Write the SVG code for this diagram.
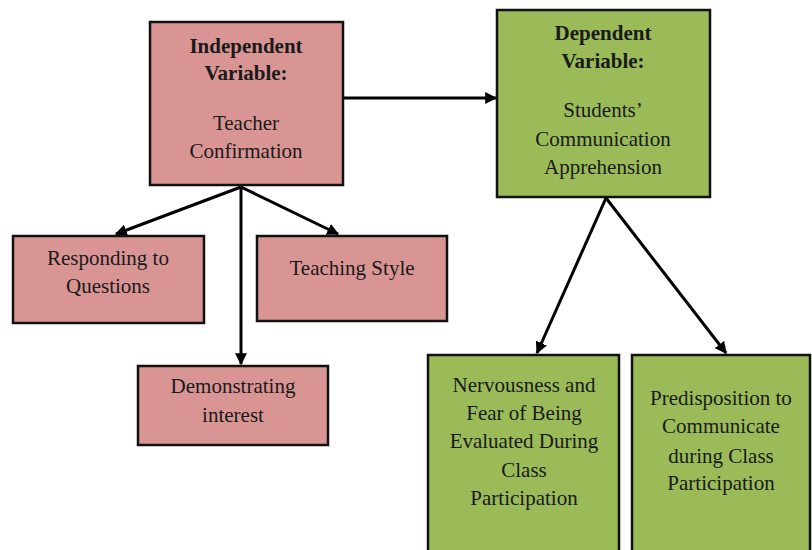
<svg xmlns="http://www.w3.org/2000/svg" width="812" height="550" viewBox="0 0 812 550">
<style>
.pink{fill:#d99594;stroke:#111;stroke-width:2.5}
.green{fill:#9bbb59;stroke:#111;stroke-width:2.5}
text{font-family:"Liberation Serif","Times New Roman",serif;font-size:21px;fill:#1a1a1a;text-anchor:middle}
.b{font-weight:bold}
.edge{stroke:#000;stroke-width:3;fill:none;marker-end:url(#ah)}
</style>
<defs>
<marker id="ah" viewBox="0 0 10 10" refX="9" refY="5" markerWidth="4" markerHeight="4" orient="auto" markerUnits="strokeWidth">
<path d="M0,0 L10,5 L0,10 z" fill="#000"/>
</marker>
</defs>
<rect width="812" height="550" fill="#fff"/>
<g id="connectors">
<line class="edge" x1="343" y1="98" x2="496" y2="98"/>
<line class="edge" x1="241" y1="187" x2="116" y2="234"/>
<line class="edge" x1="241" y1="187" x2="338" y2="234"/>
<line class="edge" x1="241" y1="187" x2="241" y2="364"/>
<line class="edge" x1="606" y1="198" x2="537" y2="353"/>
<line class="edge" x1="606" y1="198" x2="726" y2="353"/>
</g>
<g id="independent">
<rect class="pink" x="150" y="22" width="193" height="163"/>
<text class="b" x="246" y="53">Independent</text>
<text class="b" x="246" y="80">Variable:</text>
<text x="246" y="130">Teacher</text>
<text x="246" y="158">Confirmation</text>
</g>
<g id="dependent">
<rect class="green" x="497" y="10" width="213" height="187"/>
<text class="b" x="603" y="40">Dependent</text>
<text class="b" x="603" y="68">Variable:</text>
<text x="603" y="117">Students’</text>
<text x="603" y="146">Communication</text>
<text x="603" y="174">Apprehension</text>
</g>
<g id="responding">
<rect class="pink" x="13" y="236" width="191" height="87"/>
<text x="108" y="265">Responding to</text>
<text x="108" y="293">Questions</text>
</g>
<g id="teaching">
<rect class="pink" x="257" y="236" width="190" height="85"/>
<text x="352" y="275">Teaching Style</text>
</g>
<g id="demonstrating">
<rect class="pink" x="138" y="366" width="190" height="79"/>
<text x="233" y="393">Demonstrating</text>
<text x="233" y="422">interest</text>
</g>
<g id="nervousness">
<rect class="green" x="428" y="355" width="191" height="200"/>
<text x="524" y="392">Nervousness and</text>
<text x="524" y="420">Fear of Being</text>
<text x="524" y="448">Evaluated During</text>
<text x="524" y="477">Class</text>
<text x="524" y="505">Participation</text>
</g>
<g id="predisposition">
<rect class="green" x="632" y="355" width="178" height="200"/>
<text x="721" y="405">Predisposition to</text>
<text x="721" y="433">Communicate</text>
<text x="721" y="463">during Class</text>
<text x="721" y="490">Participation</text>
</g>
</svg>
